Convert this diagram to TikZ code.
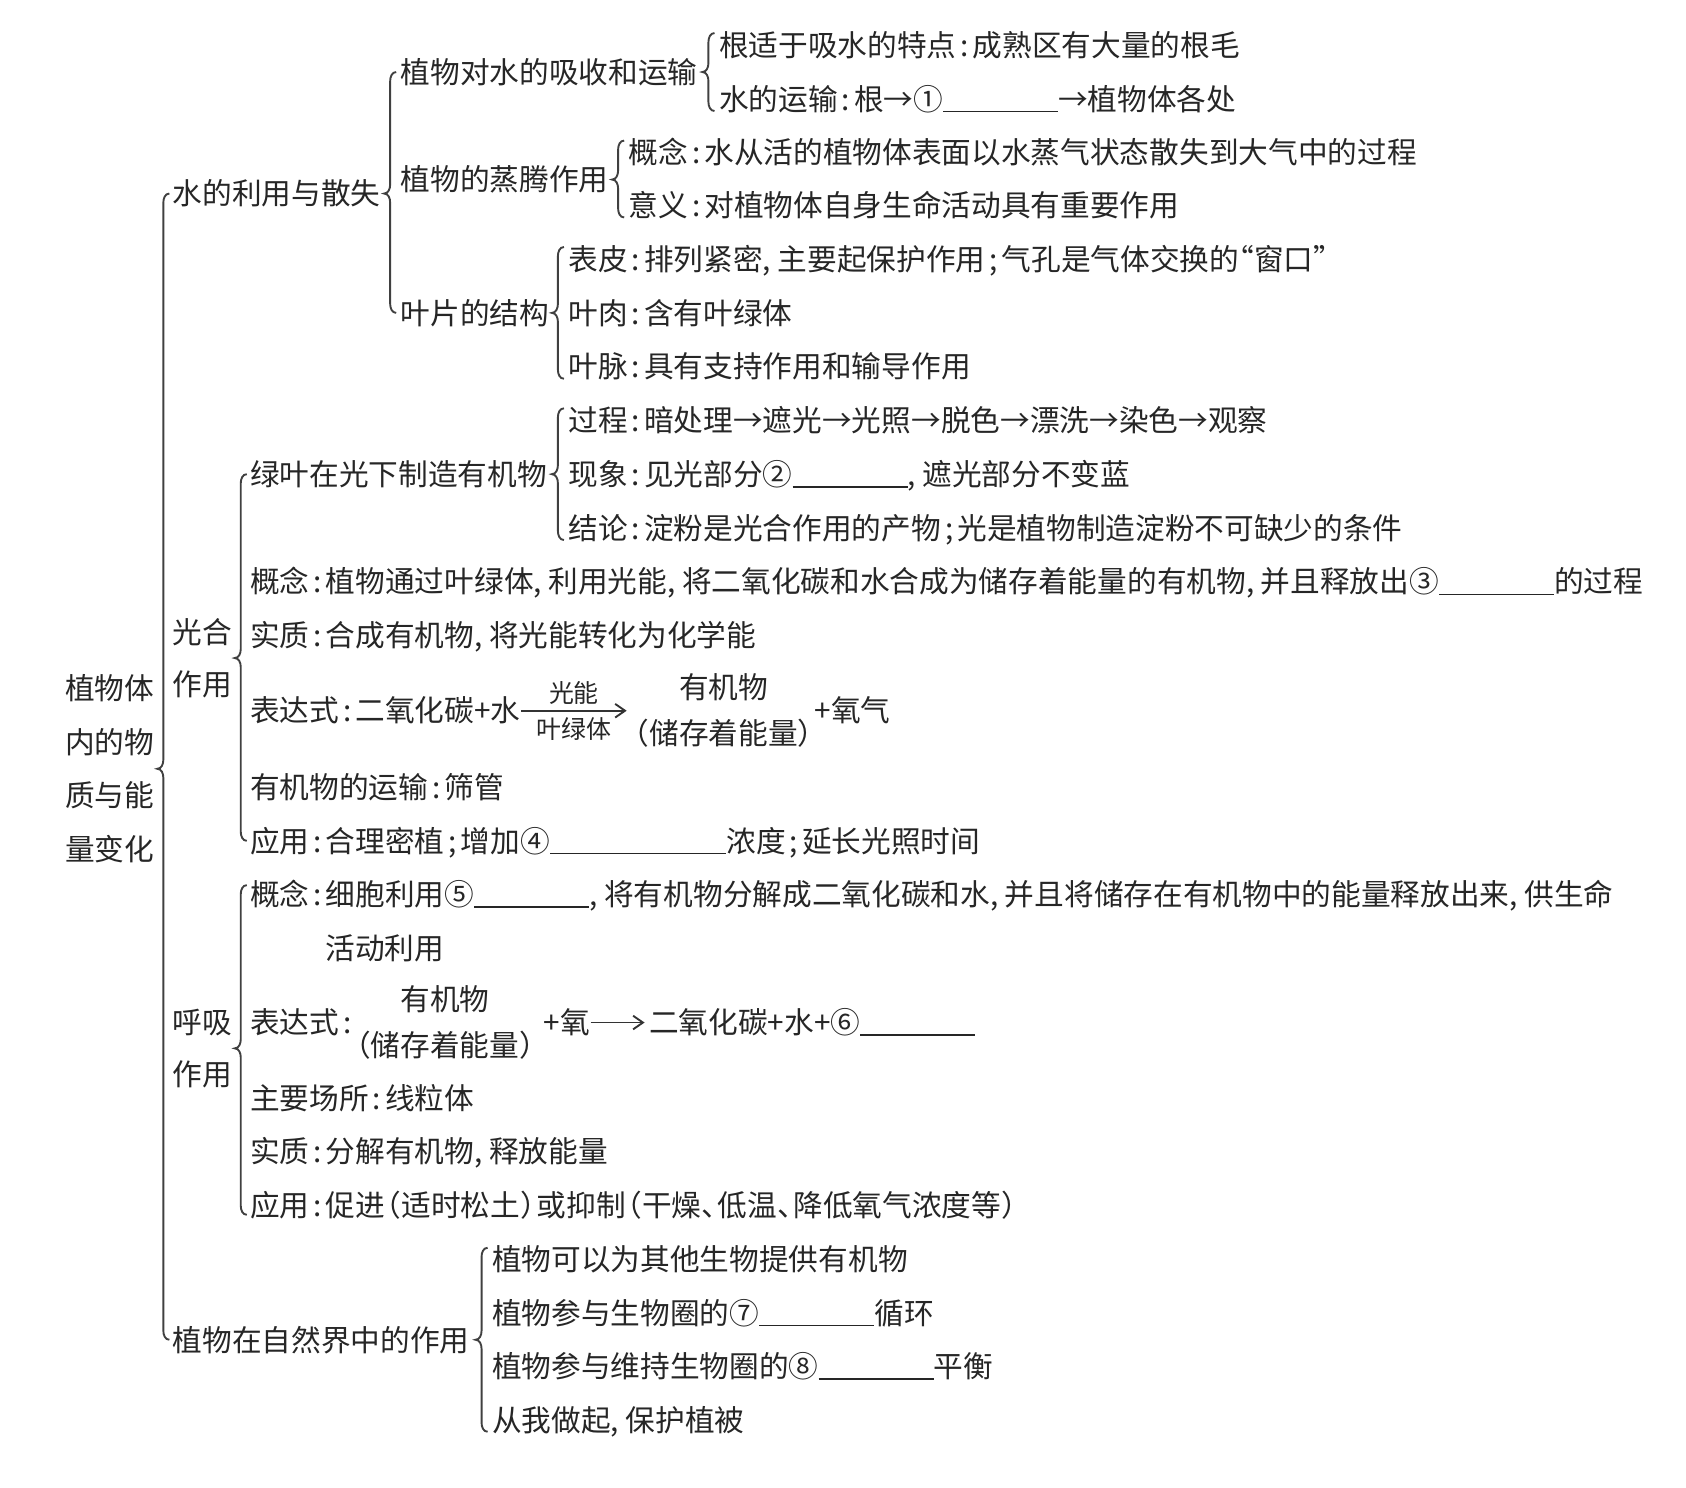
\documentclass[tikz,border=0pt]{standalone}
\usepackage{fontspec}
\usepackage{tikz}
\usetikzlibrary{calc,arrows.meta}
\newfontfamily\zhfont{Noto Sans CJK SC}
\newcommand{\zhtext}{\zhfont\fontsize{7.85pt}{14.2pt}\selectfont}
\newcommand{\zhsmall}{\zhfont\fontsize{6.6pt}{8pt}\selectfont}
\newcommand{\pco}{\makebox[0.55em][c]{:}}
\newcommand{\pcm}{\makebox[0.5em][l]{,}}
\newcommand{\psm}{\makebox[0.55em][c]{;}}
\newcommand{\pdn}{\makebox[0.55em][l]{、}}
\newcommand{\plp}{\makebox[0.55em][r]{（}}
\newcommand{\prp}{\makebox[0.55em][l]{）}}
\newcommand{\plq}{\makebox[0.5em][r]{“}}
\newcommand{\prq}{\makebox[0.5em][l]{”}}
\newcommand{\tkong}[1][1.07cm]{\rule[-0.6pt]{#1}{0.45pt}}
\newcommand{\brc}[3]{\draw[brc] let \p1=#1, \p2=#2, \p3=#3 in (\x1+1.6pt,\y1) to[out=180,in=90] (\x1,\y1-2.4pt) -- (\x1,\y2+2.4pt) to[out=-90,in=0] (\x1-1.6pt,\y2) to[out=0,in=90] (\x1,\y2-2.4pt) -- (\x1,\y3+2.4pt) to[out=-90,in=180] (\x1+1.6pt,\y3);}

\begin{document}
\begin{tikzpicture}[x=0.01cm,y=-0.01cm,
  tx/.style={anchor=west,inner sep=0pt,text height=6.75pt,text depth=0.8pt,font=\zhtext,text=black!85},
  hd/.style={align=center,inner sep=0pt,font=\zhtext,text=black!85},
  lbl/.style={font=\zhsmall,inner sep=1.5pt,text=black!85},
  brc/.style={line width=0.5pt,draw=black!75},
  arr/.style={line width=0.5pt,draw=black!80,-{Straight Barb[length=2.6pt,width=3.6pt]}}]
\useasboundingbox (0,0) rectangle (1568,1383);
\node[hd] (root) at (102,715) {植物体\\内的物\\质与能\\量变化};
\node[tx] (water) at (160,180) {水的利用与散失};
\node[hd] (photo) at (188,612) {光合\\[-0.5pt]作用};
\node[hd] (resp) at (188,975) {呼吸\\[-0.5pt]作用};
\node[tx] (role) at (160,1246) {植物在自然界中的作用};
\node[tx] (absorb) at (372,67) {植物对水的吸收和运输};
\node[tx] (transp) at (372,167) {植物的蒸腾作用};
\node[tx] (leaf) at (372,291) {叶片的结构};
\node[tx] (hair) at (668,42) {根适于吸水的特点\pco{}成熟区有大量的根毛};
\node[tx] (route) at (668,92) {水的运输\pco{}根→①\tkong→植物体各处};
\node[tx] (tdef) at (584,142) {概念\pco{}水从活的植物体表面以水蒸气状态散失到大气中的过程};
\node[tx] (tuse) at (584,191) {意义\pco{}对植物体自身生命活动具有重要作用};
\node[tx] (skin) at (528,241) {表皮\pco{}排列紧密\pcm{}主要起保护作用\psm{}气孔是气体交换的\plq{}窗口\prq};
\node[tx] (meso) at (528,291) {叶肉\pco{}含有叶绿体};
\node[tx] (vein) at (528,341) {叶脉\pco{}具有支持作用和输导作用};
\node[tx] (green) at (232,441) {绿叶在光下制造有机物};
\node[tx] (gstep) at (528,391) {过程\pco{}暗处理→遮光→光照→脱色→漂洗→染色→观察};
\node[tx] (gseen) at (528,441) {现象\pco{}见光部分②\tkong\pcm{}遮光部分不变蓝};
\node[tx] (gend) at (528,491) {结论\pco{}淀粉是光合作用的产物\psm{}光是植物制造淀粉不可缺少的条件};
\node[tx] (pdef) at (232,541) {概念\pco{}植物通过叶绿体\pcm{}利用光能\pcm{}将二氧化碳和水合成为储存着能量的有机物\pcm{}并且释放出③\tkong 的过程};
\node[tx] (pcore) at (232,591) {实质\pco{}合成有机物\pcm{}将光能转化为化学能};
\node[tx] (pexp) at (232,661) {表达式\pco{}二氧化碳+水};
\node[hd] (porg) at (673,661) {有机物\\[-2pt]\plp{}储存着能量\prp};
\node[tx] (poxy) at (757,661) {+氧气};
\node[tx] (pmove) at (232,732) {有机物的运输\pco{}筛管};
\node[tx] (puse) at (232,782) {应用\pco{}合理密植\psm{}增加④\tkong[1.64cm]浓度\psm{}延长光照时间};
\node[tx] (rdef) at (232,832) {概念\pco{}细胞利用⑤\tkong\pcm{}将有机物分解成二氧化碳和水\pcm{}并且将储存在有机物中的能量释放出来\pcm{}供生命};
\node[tx] (rdef2) at (302,882) {活动利用};
\node[tx] (rexp) at (232,951) {表达式\pco};
\node[hd] (rorg) at (414,951) {有机物\\[-2pt]\plp{}储存着能量\prp};
\node[tx] (roxy) at (505,951) {+氧};
\node[tx] (rprod) at (603,951) {二氧化碳+水+⑥\tkong};
\node[tx] (rsite) at (232,1021) {主要场所\pco{}线粒体};
\node[tx] (rcore) at (232,1071) {实质\pco{}分解有机物\pcm{}释放能量};
\node[tx] (ruse) at (232,1121) {应用\pco{}促进\plp{}适时松土\prp{}或抑制\plp{}干燥\pdn{}低温\pdn{}降低氧气浓度等\prp};
\node[tx] (food) at (457,1171) {植物可以为其他生物提供有机物};
\node[tx] (cycle) at (457,1221) {植物参与生物圈的⑦\tkong 循环};
\node[tx] (bal) at (457,1271) {植物参与维持生物圈的⑧\tkong 平衡};
\node[tx] (veg) at (457,1321) {从我做起\pcm{}保护植被};
\draw[arr] (pexp.east) -- node[lbl,above]{光能} node[lbl,below]{叶绿体} ([xshift=-1.5pt]porg.west);
\draw[arr] (roxy.east) -- ([xshift=-1pt]rprod.west);
\brc{([xshift=-2.3pt]water.west)}{(root.east)}{([xshift=-2.3pt]role.west)}
\brc{([xshift=-2.6pt]absorb.west)}{(water.east)}{([xshift=-2.6pt]leaf.west)}
\brc{([xshift=-2.6pt,yshift=3.2pt]hair.west)}{(absorb.east)}{([xshift=-2.6pt,yshift=-3.2pt]route.west)}
\brc{([xshift=-2.6pt,yshift=3.2pt]tdef.west)}{(transp.east)}{([xshift=-2.6pt,yshift=-3.2pt]tuse.west)}
\brc{([xshift=-2.6pt,yshift=3.2pt]skin.west)}{(leaf.east)}{([xshift=-2.6pt,yshift=-3.2pt]vein.west)}
\brc{([xshift=-2.3pt]green.west)}{(photo.east)}{([xshift=-2.3pt]puse.west)}
\brc{([xshift=-2.6pt,yshift=3.2pt]gstep.west)}{(green.east)}{([xshift=-2.6pt,yshift=-3.2pt]gend.west)}
\brc{([xshift=-2.3pt,yshift=2.5pt]rdef.west)}{(resp.east)}{([xshift=-2.3pt,yshift=-2.5pt]ruse.west)}
\brc{([xshift=-2.6pt,yshift=3pt]food.west)}{(role.east)}{([xshift=-2.6pt,yshift=-3pt]veg.west)}
\end{tikzpicture}
\end{document}
